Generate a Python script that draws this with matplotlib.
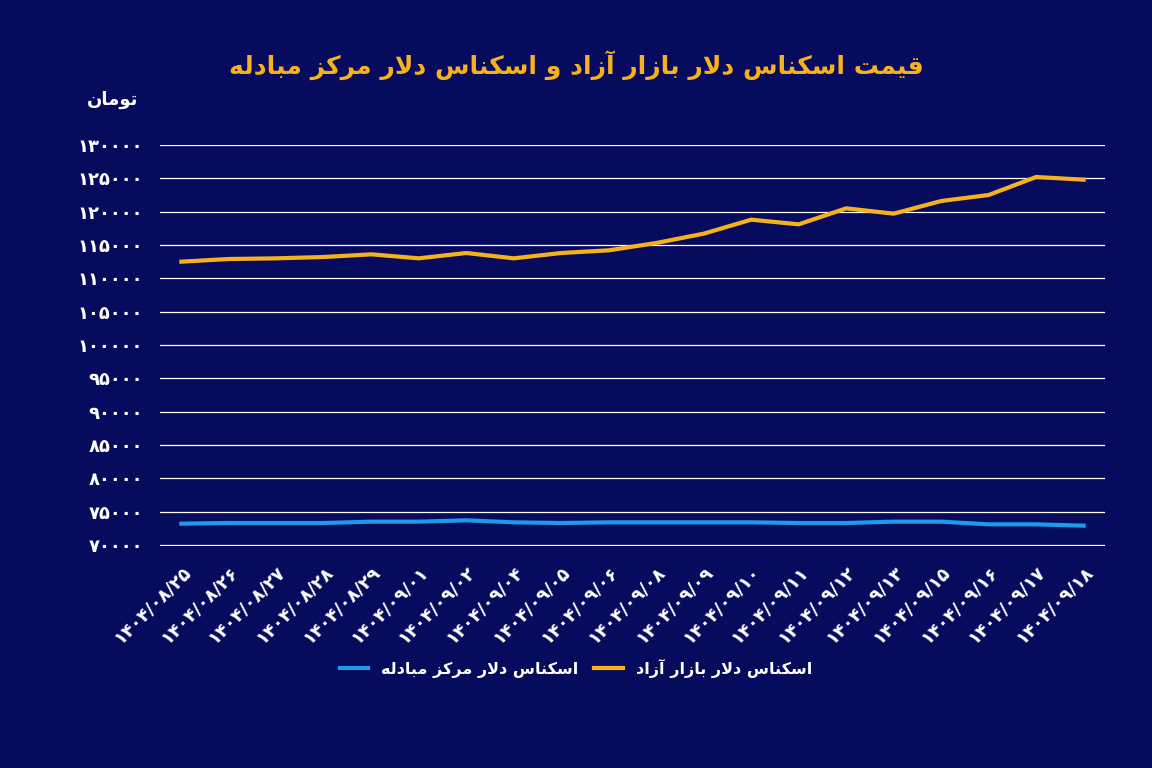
import matplotlib
matplotlib.use("Agg")
import matplotlib.pyplot as plt

# --- tiny Persian shaper (presentation forms + visual reversal) ---
FORMS = {  # isolated, final, initial, medial
    "ا": ("\uFE8D", "\uFE8E", None, None),
    "آ": ("\uFE81", "\uFE82", None, None),
    "ب": ("\uFE8F", "\uFE90", "\uFE91", "\uFE92"),
    "ت": ("\uFE95", "\uFE96", "\uFE97", "\uFE98"),
    "د": ("\uFEA9", "\uFEAA", None, None),
    "ر": ("\uFEAD", "\uFEAE", None, None),
    "ز": ("\uFEAF", "\uFEB0", None, None),
    "س": ("\uFEB1", "\uFEB2", "\uFEB3", "\uFEB4"),
    "ق": ("\uFED5", "\uFED6", "\uFED7", "\uFED8"),
    "ک": ("\uFB8E", "\uFB8F", "\uFB90", "\uFB91"),
    "ل": ("\uFEDD", "\uFEDE", "\uFEDF", "\uFEE0"),
    "م": ("\uFEE1", "\uFEE2", "\uFEE3", "\uFEE4"),
    "ن": ("\uFEE5", "\uFEE6", "\uFEE7", "\uFEE8"),
    "ه": ("\uFEE9", "\uFEEA", "\uFEEB", "\uFEEC"),
    "و": ("\uFEED", "\uFEEE", None, None),
    "ی": ("\uFBFC", "\uFBFD", "\uFBFE", "\uFBFF"),
}


def dual(c):
    return c in FORMS and FORMS[c][2] is not None


def shape(text):
    out = []
    chars = list(text)
    i = 0
    while i < len(chars):
        c = chars[i]
        if c not in FORMS:
            out.append(c)
            i += 1
            continue
        prev_joins = i > 0 and dual(chars[i - 1])
        if c == "ل" and i + 1 < len(chars) and chars[i + 1] == "ا":
            out.append("\uFEFC" if prev_joins else "\uFEFB")
            i += 2
            continue
        nxt = chars[i + 1] if i + 1 < len(chars) else ""
        next_joins = dual(c) and nxt in FORMS
        iso, fin, ini, med = FORMS[c]
        if prev_joins and next_joins:
            out.append(med)
        elif prev_joins:
            out.append(fin)
        elif next_joins:
            out.append(ini)
        else:
            out.append(iso)
        i += 1
    return "".join(out)[::-1]


def fa_digits(s):
    return s.translate(str.maketrans("0123456789", "۰۱۲۳۴۵۶۷۸۹"))


# --- data ---
dates = ["1404/08/25", "1404/08/26", "1404/08/27", "1404/08/28", "1404/08/29",
         "1404/09/01", "1404/09/02", "1404/09/04", "1404/09/05", "1404/09/06",
         "1404/09/08", "1404/09/09", "1404/09/10", "1404/09/11", "1404/09/12",
         "1404/09/13", "1404/09/15", "1404/09/16", "1404/09/17", "1404/09/18"]
free_market = [112500, 112900, 113000, 113200, 113600, 113000, 113800, 113000, 113800, 114200,
               115300, 116700, 118800, 118100, 120500, 119700, 121600, 122500, 125200, 124800]
exchange_center = [73200, 73300, 73300, 73300, 73500, 73500, 73700, 73400, 73300, 73400,
                   73400, 73400, 73400, 73300, 73300, 73500, 73500, 73100, 73100, 72900]
yticks = list(range(70000, 130001, 5000))

title = "قیمت اسکناس دلار بازار آزاد و اسکناس دلار مرکز مبادله"
unit = "تومان"
name_free = "اسکناس دلار بازار آزاد"
name_exch = "اسکناس دلار مرکز مبادله"

BG = "#070b5e"
ORANGE = "#f6b21c"
BLUE = "#1e9be6"

plt.rcParams["font.family"] = ["DejaVu Sans"]
fig = plt.figure(figsize=(11.52, 7.68), dpi=100, facecolor=BG)
ax = fig.add_axes([160 / 1152, 1 - 546 / 768, 945 / 1152, 401 / 768], facecolor=BG)

x = list(range(len(dates)))
ax.plot(x, exchange_center, color=BLUE, lw=3, label=shape(name_exch))
ax.plot(x, free_market, color=ORANGE, lw=3, label=shape(name_free))

ax.set_ylim(69850, 130000)
ax.set_xlim(-0.45, len(dates) - 0.55)
ax.set_yticks(yticks)
ax.set_yticklabels([fa_digits(str(v)) for v in yticks], color="white", fontsize=13, fontweight="bold")
ax.yaxis.grid(True, color="white", lw=0.9)
ax.set_axisbelow(True)
ax.set_xticks(x)
ax.set_xticklabels([fa_digits(d) for d in dates], rotation=45, ha="right", rotation_mode="anchor",
                   color="white", fontsize=13, fontweight="bold")
ax.tick_params(length=0, pad=12)
for s in ax.spines.values():
    s.set_visible(False)

fig.text(0.5, 1 - 65 / 768, shape(title), ha="center", va="center", color=ORANGE,
         fontsize=18, fontweight="bold")
fig.text(138 / 1152, 1 - 100 / 768, shape(unit), ha="right", va="center", color="white",
         fontsize=13, fontweight="bold")

leg = fig.legend(loc="center", bbox_to_anchor=(0.5, 1 - 668 / 768), ncol=2, frameon=False,
                 fontsize=11.5, handlelength=1.8, columnspacing=1.0)
for t in leg.get_texts():
    t.set_color("white")
    t.set_fontweight("bold")

fig.savefig("out.png", dpi=100, facecolor=BG)
